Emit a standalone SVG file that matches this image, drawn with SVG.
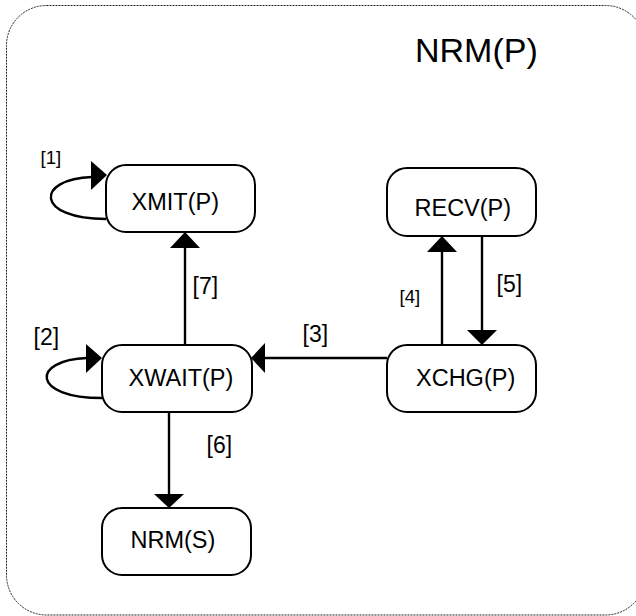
<svg xmlns="http://www.w3.org/2000/svg" width="636" height="616" viewBox="0 0 636 616">
  <style>
    .frame { fill: none; stroke: #222; stroke-width: 1; stroke-dasharray: 2 1; }
    .state rect { fill: #fff; stroke: #000; stroke-width: 2; }
    .state text { font-family: "Liberation Sans", Arial, sans-serif; font-size: 23.5px; fill: #000; }
    .edge { fill: none; stroke: #000; stroke-width: 2.4; }
    .head { fill: #000; stroke: none; }
    .lbl { font-family: "Liberation Sans", Arial, sans-serif; font-size: 23px; fill: #000; }
    .lbl-s { font-family: "Liberation Sans", Arial, sans-serif; font-size: 18.5px; fill: #000; }
    .title { font-family: "Liberation Sans", Arial, sans-serif; font-size: 34px; fill: #000; }
  </style>

  <rect width="636" height="616" fill="#fff"/>

  <!-- superstate frame -->
  <g id="nrm-p">
    <rect class="frame" x="6.5" y="5.5" width="639" height="609.5" rx="40" ry="40"/>
    <text class="title" x="415" y="62">NRM(P)</text>
  </g>

  <!-- connectors -->
  <g id="connectors">
    <!-- [1] self loop on XMIT(P) -->
    <path class="edge" d="M106,219 C35,219 35,179 92,177"/>
    <polygon class="head" points="91,161 91,190 107,175"/>
    <!-- [2] self loop on XWAIT(P) -->
    <path class="edge" d="M102,398 C31,398 31,360 87,358"/>
    <polygon class="head" points="86,344 86,373 102,358"/>
    <!-- [7] XWAIT -> XMIT -->
    <line class="edge" x1="185" y1="345" x2="185" y2="247"/>
    <polygon class="head" points="170,248 200,248 185,232"/>
    <!-- [3] XCHG -> XWAIT -->
    <line class="edge" x1="387" y1="358" x2="264" y2="358"/>
    <polygon class="head" points="265,343 265,373 251,358"/>
    <!-- [4] XCHG -> RECV -->
    <line class="edge" x1="442" y1="345" x2="442" y2="251"/>
    <polygon class="head" points="427,252 457,252 442,236"/>
    <!-- [5] RECV -> XCHG -->
    <line class="edge" x1="482" y1="236" x2="482" y2="331"/>
    <polygon class="head" points="467,330 497,330 482,345"/>
    <!-- [6] XWAIT -> NRM(S) -->
    <line class="edge" x1="169" y1="412" x2="169" y2="495"/>
    <polygon class="head" points="154,494 184,494 169,508"/>

    <text class="lbl-s" x="40.5" y="164">[1]</text>
    <text class="lbl" x="33.5" y="344.5">[2]</text>
    <text class="lbl" x="302.5" y="341.5">[3]</text>
    <text class="lbl-s" x="399.5" y="303">[4]</text>
    <text class="lbl" x="496.5" y="292">[5]</text>
    <text class="lbl" x="206.5" y="452.5">[6]</text>
    <text class="lbl" x="192.5" y="294">[7]</text>
  </g>

  <g id="xmit" class="state">
    <rect x="106" y="165" width="149" height="67" rx="20" ry="20"/>
    <text x="131.5" y="210">XMIT(P)</text>
  </g>

  <g id="xwait" class="state">
    <rect x="102" y="345" width="150" height="67" rx="20" ry="20"/>
    <text x="128.5" y="385.5">XWAIT(P)</text>
  </g>

  <g id="nrm-s" class="state">
    <rect x="102" y="508" width="149" height="67" rx="20" ry="20"/>
    <text x="130.5" y="548">NRM(S)</text>
  </g>

  <g id="recv" class="state">
    <rect x="387" y="168" width="149" height="68" rx="20" ry="20"/>
    <text x="414.5" y="216">RECV(P)</text>
  </g>

  <g id="xchg" class="state">
    <rect x="387" y="345" width="149" height="67" rx="20" ry="20"/>
    <text x="416" y="386">XCHG(P)</text>
  </g>
</svg>
